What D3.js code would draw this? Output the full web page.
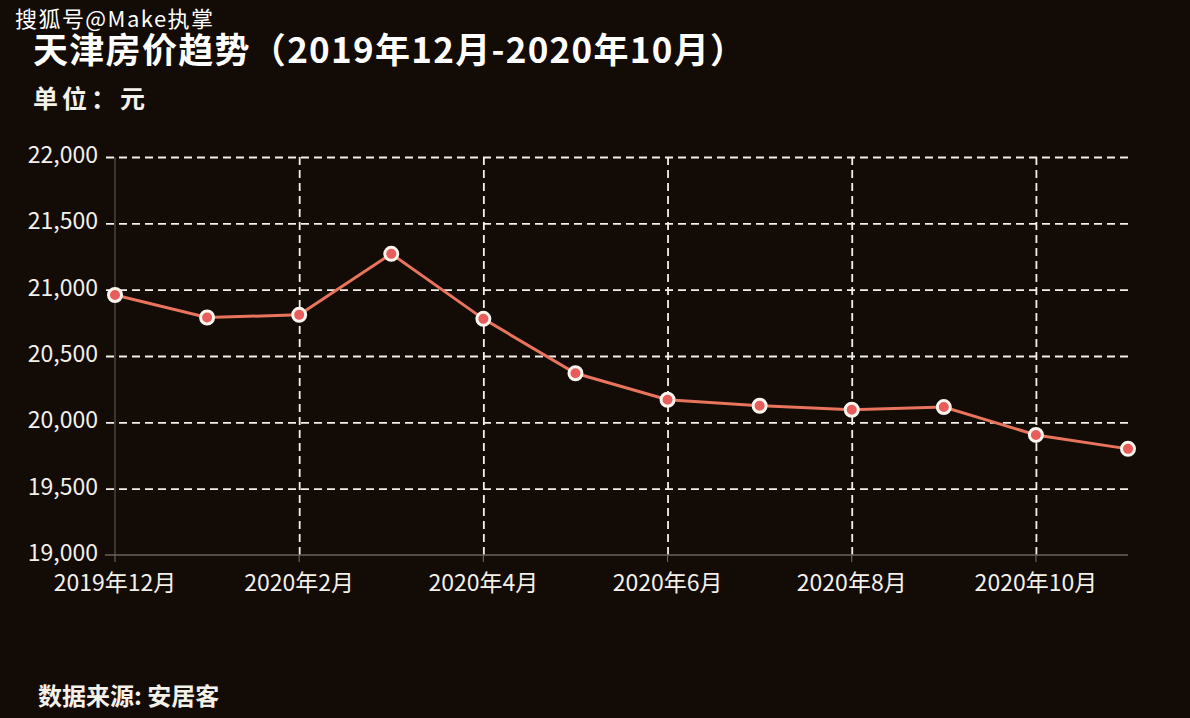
<!DOCTYPE html>
<html>
<head>
<meta charset="utf-8">
<script src="https://cdn.jsdelivr.net/npm/d3@7"></script>
<style>
  body { margin: 0; background: #120b06; }
  svg text { font-family: "Noto Sans CJK SC", "Noto Sans", sans-serif; }
  .grid line { stroke: #f4f0ea; stroke-width: 1.8; stroke-dasharray: 8 5; }
  .grid path { display: none; }
</style>
</head>
<body>
<svg id="chart" width="1190" height="718"></svg>
<script>
// data
var months = ["2019年12月", "2020年1月", "2020年2月", "2020年3月", "2020年4月", "2020年5月",
              "2020年6月", "2020年7月", "2020年8月", "2020年9月", "2020年10月", "2020年11月"];
var prices = [20960, 20790, 20810, 21270, 20780, 20370, 20170, 20125, 20095, 20115, 19905, 19800];
var yTicks = [19000, 19500, 20000, 20500, 21000, 21500, 22000];
var xTickIdx = [0, 2, 4, 6, 8, 10];

var svg = d3.select('#chart');
var W = 1190, H = 718;

svg.append('rect').attr('width', W).attr('height', H).attr('fill', '#120b06');

var x = d3.scalePoint()
    .domain(months)
    .range([115, 1128]);

var y = d3.scaleLinear()
    .domain([19000, 22000])
    .range([555, 157]);

// horizontal gridlines
svg.append('g')
    .attr('class', 'grid')
    .attr('transform', 'translate(1128,0)')
    .call(d3.axisLeft(y).tickValues(yTicks.slice(1)).tickFormat('').tickSize(1023));

// vertical gridlines
svg.append('g')
    .attr('class', 'grid')
    .attr('transform', 'translate(0,555)')
    .call(d3.axisTop(x).tickValues(xTickIdx.slice(1).map(function (i) { return months[i]; }))
        .tickFormat('').tickSize(398));

// y axis line + labels
svg.append('line')
    .attr('x1', 115).attr('x2', 115).attr('y1', 157).attr('y2', 555)
    .attr('stroke', '#5a534c').attr('stroke-width', 1.2);

svg.append('g').selectAll('text')
    .data(yTicks)
    .enter().append('text')
    .attr('x', 98)
    .attr('y', function (d) { return y(d) - 2; })
    .attr('dy', '0.35em')
    .attr('text-anchor', 'end')
    .attr('fill', '#f4f0ea')
    .attr('font-size', 23)
    .text(d3.format(','));

// x axis line + ticks + labels
svg.append('line')
    .attr('x1', 105).attr('x2', 1128).attr('y1', 555).attr('y2', 555)
    .attr('stroke', '#6a625a').attr('stroke-width', 1.5);

var xt = svg.append('g').selectAll('g')
    .data(xTickIdx)
    .enter().append('g')
    .attr('transform', function (i) { return 'translate(' + x(months[i]) + ',0)'; });
xt.append('line')
    .attr('y1', 555).attr('y2', 562)
    .attr('stroke', '#6a625a').attr('stroke-width', 1.2);
xt.append('text')
    .attr('y', 591)
    .attr('text-anchor', 'middle')
    .attr('fill', '#f4f0ea')
    .attr('font-size', 23)
    .text(function (i) { return months[i]; });

// line
var line = d3.line()
    .x(function (d, i) { return x(months[i]); })
    .y(function (d) { return y(d); });

svg.append('path')
    .datum(prices)
    .attr('d', line)
    .attr('fill', 'none')
    .attr('stroke', '#e8745c')
    .attr('stroke-width', 3);

svg.append('g').selectAll('circle')
    .data(prices)
    .enter().append('circle')
    .attr('cx', function (d, i) { return x(months[i]); })
    .attr('cy', function (d) { return y(d); })
    .attr('r', 6.5)
    .attr('fill', '#e85c5c')
    .attr('stroke', '#fbf5ee')
    .attr('stroke-width', 3);

// texts
svg.append('text')
    .attr('x', 15).attr('y', 27)
    .attr('fill', '#ffffff')
    .attr('font-size', 22)
    .attr('textLength', 198)
    .attr('lengthAdjust', 'spacing')
    .text('搜狐号@Make执掌');

svg.append('text')
    .attr('x', 33).attr('y', 63)
    .attr('fill', '#ffffff')
    .attr('font-size', 35)
    .attr('font-weight', 'bold')
    .attr('textLength', 712)
    .attr('lengthAdjust', 'spacing')
    .text('天津房价趋势（2019年12月-2020年10月）');

svg.append('text')
    .attr('x', 33).attr('y', 108)
    .attr('fill', '#f4f0ea')
    .attr('font-size', 25)
    .attr('font-weight', 'bold')
    .attr('textLength', 112)
    .attr('lengthAdjust', 'spacing')
    .text('单位：元');

svg.append('text')
    .attr('x', 38).attr('y', 705)
    .attr('fill', '#f4f0ea')
    .attr('font-size', 24)
    .attr('font-weight', 'bold')
    .text('数据来源: 安居客');
</script>
</body>
</html>
